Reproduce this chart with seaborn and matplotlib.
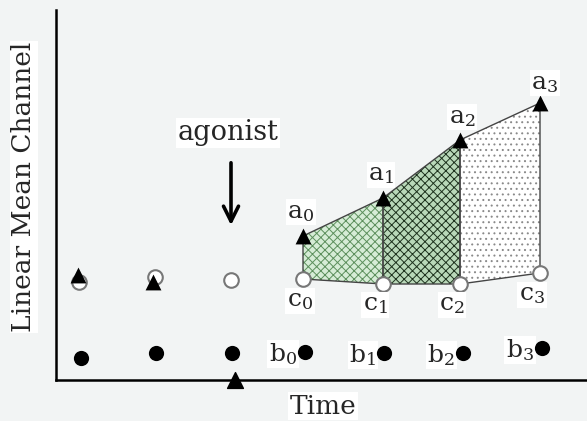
import matplotlib
matplotlib.use("Agg")
from matplotlib import pyplot as plt
import pandas as pd
import seaborn as sns

# schematic values (time units / arbitrary channel units)
t_all = [23, 99, 175, 247, 327, 404, 484]
c_vals = [98, 103, 100, 101, 96, 96, 107]          # open circles
b_t = [25, 100, 176, 249, 328, 407, 486]
b_vals = [22, 27, 27, 28, 27, 27, 32]               # filled circles
pre_t = [22, 97]
pre_vals = [105, 98]                                # early triangles
a_t = [247, 327, 404, 484]
a_vals = [144, 182, 240, 277]                       # a0..a3
c_sub = [101, 96, 96, 107]                          # c0..c3
agonist_t = 179

bg = "#f2f4f4"
sns.set_theme(style="white")
plt.rcParams["font.family"] = ["DejaVu Serif"]
plt.rcParams["mathtext.fontset"] = "dejavuserif"
plt.rcParams["hatch.linewidth"] = 0.7

fig = plt.figure(figsize=(5.87, 4.21), dpi=100, facecolor=bg)
ax = fig.add_axes([56 / 587, 41 / 421, 531 / 587, 370 / 421])
ax.set_facecolor(bg)
ax.set_xlim(0, 531)
ax.set_ylim(0, 370)

# shaded areas between a and c
fills = [("#d6ecd6", "#5c8f5c", "xxxx"), ("#b9d8b9", "#1e321e", "xxxx"), ("white", "#8a8a8a", "...")]
for i, (fc, hc, hatch) in enumerate(fills):
    xs = [a_t[i], a_t[i + 1], a_t[i + 1], a_t[i]]
    ys = [a_vals[i], a_vals[i + 1], c_sub[i + 1], c_sub[i]]
    plt.rcParams["hatch.color"] = hc
    ax.fill(xs, ys, facecolor=fc, edgecolor=hc, hatch=hatch, linewidth=0, zorder=1)
    ax.fill(xs, ys, facecolor="none", edgecolor="#444444", linewidth=1.0, zorder=2)

df_c = pd.DataFrame({"t": t_all, "v": c_vals})
sns.scatterplot(data=df_c, x="t", y="v", ax=ax, marker="o", s=110,
                facecolor="white", edgecolor="#777777", linewidth=1.5, zorder=3)
df_b = pd.DataFrame({"t": b_t, "v": b_vals})
sns.scatterplot(data=df_b, x="t", y="v", ax=ax, marker="o", s=120,
                color="black", linewidth=0, zorder=3)
df_tri = pd.DataFrame({"t": pre_t + a_t, "v": pre_vals + a_vals})
sns.scatterplot(data=df_tri, x="t", y="v", ax=ax, marker="^", s=130,
                color="black", linewidth=0, zorder=4)
ax.scatter([agonist_t], [0], marker="^", s=130, color="black", zorder=5, clip_on=False)

# labels
box = dict(facecolor="white", edgecolor="none", pad=1)
a_off = [(-2, 24), (-2, 23), (2, 23), (5, 20)]
c_off = [(-3, -22), (-8, -21), (-8, -21), (-8, -22)]
for i in range(4):
    ax.text(a_t[i] + a_off[i][0], a_vals[i] + a_off[i][1], f"a$_{i}$", fontsize=18,
            ha="center", va="center", bbox=box, zorder=6)
    ax.text(a_t[i] + c_off[i][0], c_sub[i] + c_off[i][1], f"c$_{i}$", fontsize=18,
            ha="center", va="center", bbox=box, zorder=6)
    ax.text(b_t[i + 3] - 8, b_vals[i + 3] - 2, f"b$_{i}$", fontsize=18,
            ha="right", va="center", bbox=box, zorder=2)

ax.annotate("", xy=(agonist_t - 4, 152), xytext=(agonist_t - 4, 220),
            arrowprops=dict(arrowstyle="->,head_length=0.9,head_width=0.45",
                            color="black", lw=2.6))
ax.text(172, 247, "agonist", fontsize=19.5, ha="center", va="center", bbox=box)

ax.set_xlabel("")
ax.set_ylabel("")
fig.text(323 / 587, 1 - 406 / 421, "Time", fontsize=19, ha="center", va="center", bbox=box)
fig.text(24 / 587, 1 - 187 / 421, "Linear Mean Channel", fontsize=19, rotation=90,
         ha="center", va="center", bbox=box)

ax.set_xticks([])
ax.set_yticks([])
for side in ["top", "right"]:
    ax.spines[side].set_visible(False)
for side in ["left", "bottom"]:
    ax.spines[side].set_color("black")
    ax.spines[side].set_linewidth(1.8)

fig.savefig("out.png", dpi=100, facecolor=bg)
